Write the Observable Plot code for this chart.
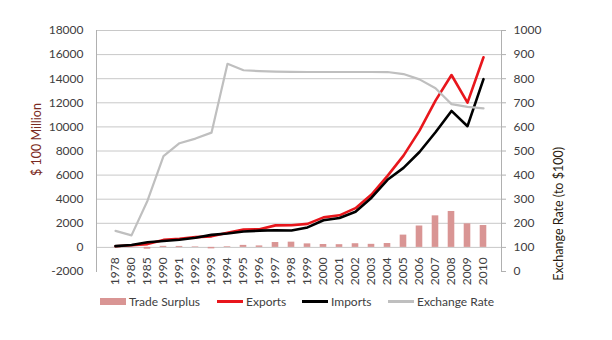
<!DOCTYPE html>
<html>
<head>
<meta charset="utf-8">
<script src="https://cdn.jsdelivr.net/npm/d3@7"></script>
<script src="https://cdn.jsdelivr.net/npm/@observablehq/plot@0.6"></script>
<style>
  body { margin: 0; background: #fff; }
  #wrap { position: relative; width: 612px; height: 340px; font-family: Lato, "Open Sans", sans-serif; }
  .leg { position: absolute; top: 292px; height: 18px; display: flex; align-items: center; font-size: 12px; color: #404040; white-space: nowrap; }
  .sw { display: inline-block; margin-right: 3px; }
</style>
</head>
<body>
<div id="wrap"></div>
<script>
const years = ["1978","1980","1985","1990","1991","1992","1993","1994","1995","1996","1997","1998","1999","2000","2001","2002","2003","2004","2005","2006","2007","2008","2009","2010"];
const exportsV = [97.5,181.2,273.5,620.9,719.1,849.4,917.4,1210.1,1487.8,1510.5,1827.9,1837.1,1949.3,2492.0,2661.0,3256.0,4382.3,5933.3,7619.5,9689.4,12177.8,14306.9,12016.1,15777.5];
const importsV = [108.9,200.2,422.5,533.5,637.9,805.9,1039.6,1156.1,1320.8,1388.3,1423.7,1402.4,1657.0,2250.9,2435.5,2951.7,4127.6,5612.3,6599.5,7914.6,9559.5,11325.6,10059.2,13962.4];
const surplusV = [-11.4,-19.0,-149.0,87.4,81.2,43.5,-122.2,54.0,167.0,122.2,404.2,434.7,292.3,241.1,225.5,304.3,254.7,321.0,1020.0,1774.8,2618.3,2981.3,1956.9,1815.1];
const rateV = [168.36,149.84,293.66,478.38,532.27,551.49,576.19,861.87,835.10,831.42,828.98,827.91,827.83,827.84,827.70,827.70,827.70,827.68,819.17,797.18,760.40,694.51,683.10,676.95];
const leftTicks = [-2000,0,2000,4000,6000,8000,10000,12000,14000,16000,18000];
const gridTicks = [0,2000,4000,6000,8000,10000,12000,14000,16000,18000];
const legendItems = ["Trade Surplus","Exports","Imports","Exchange Rate"];

const data = years.map((y, i) => ({year: y, exports: exportsV[i], imports: importsV[i], surplus: surplusV[i], rate: rateV[i]}));
// right axis (exchange rate) maps onto left scale: left = (rate - 100) * 20
const toLeft = r => (r - 100) * 20;
const toRight = v => String(v / 20 + 100);

const C = {surplus: "#d99594", exports: "#e8161c", imports: "#000000", rate: "#bfbfbf"};

const chart = Plot.plot({
  width: 612,
  height: 290,
  marginLeft: 96,
  marginRight: 111,
  marginTop: 30,
  marginBottom: 19,
  style: {fontFamily: "Lato, 'Open Sans', sans-serif", fontSize: "12px", color: "#404040", background: "transparent", overflow: "visible"},
  x: {type: "band", domain: years, padding: 0, axis: null},
  y: {domain: [-2000, 18000], axis: null},
  marks: [
    Plot.gridY(gridTicks, {stroke: "#c8c8c8", strokeOpacity: 1, strokeWidth: 1}),
    Plot.frame({anchor: "left", stroke: "#b0b0b0"}),
    Plot.frame({anchor: "right", stroke: "#b0b0b0"}),
    Plot.axisY(leftTicks, {anchor: "left", tickSize: 0, tickPadding: 13, tickFormat: d => String(d), label: null, fill: "#404040", fontSize: 12}),
    Plot.axisY(leftTicks, {anchor: "right", tickSize: 4, tickPadding: 8, stroke: "#b0b0b0", tickFormat: toRight, label: null, fill: "#404040", fontSize: 12}),
    Plot.text(years, {x: d => d, y: () => 0, rotate: -90, textAnchor: "end", dy: 10, fill: "#404040", fontSize: 12}),
    Plot.barY(data, {x: "year", y: "surplus", fill: C.surplus, insetLeft: 4.7, insetRight: 4.7}),
    Plot.line(data, {x: "year", y: "exports", stroke: C.exports, strokeWidth: 2.6}),
    Plot.line(data, {x: "year", y: "imports", stroke: C.imports, strokeWidth: 2.6}),
    Plot.line(data, {x: "year", y: d => toLeft(d.rate), stroke: C.rate, strokeWidth: 2.2}),
    Plot.text(["$ 100 Million"], {frameAnchor: "left", dx: -60, dy: 25, rotate: -90, fill: "#7a2a22", fontSize: 12.5}),
    Plot.text(["Exchange Rate (to $100)"], {frameAnchor: "right", dx: 57, dy: -4, rotate: -90, fill: "#2a1c10", fontSize: 12.5})
  ]
});

const wrap = document.getElementById("wrap");
wrap.appendChild(chart);

const legPos = [100, 217, 302, 388];
const legSw = [
  {type: "rect", color: C.surplus},
  {type: "line", color: C.exports},
  {type: "line", color: C.imports},
  {type: "line", color: C.rate}
];
legendItems.forEach((name, i) => {
  const d = document.createElement("div");
  d.className = "leg";
  d.style.left = legPos[i] + "px";
  const s = document.createElement("span");
  s.className = "sw";
  s.style.width = "26px";
  s.style.height = legSw[i].type === "rect" ? "7px" : "3px";
  s.style.background = legSw[i].color;
  d.appendChild(s);
  d.appendChild(document.createTextNode(name));
  wrap.appendChild(d);
});
</script>
</body>
</html>
